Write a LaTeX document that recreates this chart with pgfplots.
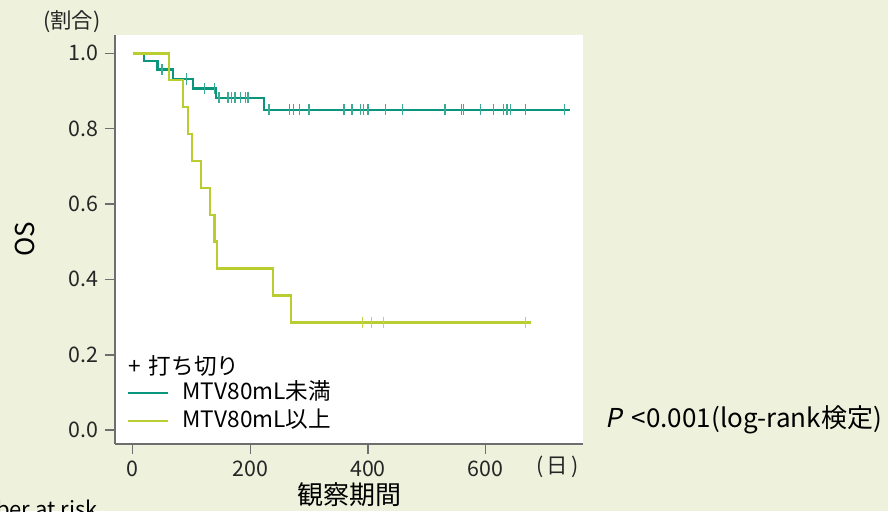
\documentclass[border=0pt]{standalone}
\usepackage{fontspec}
\setmainfont{Noto Sans CJK JP}[AutoFakeSlant=0.2]
\usepackage{pgfplots}
\pgfplotsset{compat=1.18}
\definecolor{bg}{RGB}{238,242,220}
\definecolor{kmteal}{RGB}{10,150,124}
\definecolor{kmlime}{RGB}{186,205,48}
\definecolor{axgray}{RGB}{110,110,110}
\begin{document}
\begin{tikzpicture}
\path[use as bounding box, fill=bg] (-57.5pt,-33.5pt) rectangle (386.5pt,222pt);
\begin{axis}[
  at={(0pt,0pt)}, anchor=south west,
  scale only axis, width=234pt, height=204.5pt,
  xmin=-30, xmax=765.5, ymin=-0.037, ymax=1.0486,
  clip=false,
  axis lines*=left,
  axis line style={axgray, line width=1pt},
  axis background/.style={fill=white},
  tick align=outside,
  major tick length=5pt,
  tick style={axgray, line width=0.8pt},
  xtick={0,200,400,600},
  ytick={0,0.2,0.4,0.6,0.8,1},
  /pgf/number format/assume math mode=true,
  yticklabel style={/pgf/number format/.cd, fixed, fixed zerofill, precision=1},
  ticklabel style={font=\fontsize{10.7}{12}\selectfont, text=black!85},
  xlabel={観察期間},
  xlabel style={at={(axis description cs:0.501,-0.125)}, anchor=center, font=\fontsize{13}{15}\selectfont},
  ylabel={OS},
  ylabel style={at={(axis description cs:-0.192,0.5)}, anchor=center, font=\fontsize{13}{15}\selectfont},
  legend style={at={(axis description cs:0.0256,0.0905)}, anchor=west, draw=none, fill=none,
    font=\fontsize{11.3}{13}\selectfont, inner sep=0pt, row sep=2pt,
    nodes={inner xsep=3.5pt, inner ysep=0.5pt, text height=9pt, text depth=2pt}},
  legend image code/.code={\draw[#1, line width=1pt] (0pt,0pt) -- (20pt,0pt); \path (23pt,0pt);},
  legend cell align=left,
]
% MTV < 80 mL
\addplot[const plot, color=kmteal, line width=1.2pt] coordinates {
  (0,1) (19,0.980) (42.5,0.957) (69,0.932) (103,0.907) (142,0.882) (223,0.850) (743,0.850)
};
\addlegendentry{MTV80mL未満}
% MTV >= 80 mL
\addplot[const plot, color=kmlime, line width=1.2pt] coordinates {
  (0,1) (62,0.929) (86,0.857) (94.5,0.786) (101,0.714) (116,0.643) (131,0.571) (139,0.500) (143,0.429) (239,0.357) (269.5,0.286) (677,0.286)
};
\addlegendentry{MTV80mL以上}
% censor marks
\addplot[only marks, mark=|, mark size=2.8pt, color=kmteal!80, mark options={line width=0.7pt}, forget plot] coordinates {
  (50,0.957) (92,0.932) (122,0.907) (139,0.907)
  (147,0.882) (162,0.882) (168,0.882) (174,0.882) (183,0.882) (192,0.882) (196,0.882)
  (232,0.850) (267,0.850) (273,0.850) (284,0.850) (300,0.850) (359,0.850) (372,0.850) (373,0.850)
  (387,0.850) (392,0.850) (400,0.850) (430,0.850) (459,0.850) (531,0.850) (559,0.850) (562,0.850)
  (591,0.850) (613,0.850) (630,0.850) (636,0.850) (642,0.850) (668,0.850) (734,0.850)
};
\addplot[only marks, mark=|, mark size=2.8pt, color=kmlime!85, mark options={line width=0.7pt}, forget plot] coordinates {
  (391,0.286) (406,0.286) (426,0.286) (668,0.286)
};
\node[anchor=west, inner sep=0pt, font=\fontsize{11.3}{13}\selectfont] at (axis description cs:0.0278,0.1907) {+\hspace{4pt}打ち切り};
\node[anchor=center, inner sep=0pt, font=\fontsize{10.7}{12}\selectfont, text=black!85] at (axis description cs:0.9455,-0.0562) {(\,日\,)};
\node[anchor=center, inner sep=0pt, font=\fontsize{10.7}{12}\selectfont, text=black!85] at (axis description cs:-0.092,1.032) {(割合)};
\node[anchor=west, inner sep=0pt, font=\fontsize{13}{15}\selectfont] at (axis description cs:1.047,0.0587) {\textit{P}\hspace{5pt}<0.001(log-rank検定)};
\node[anchor=north east, inner sep=0pt, font=\fontsize{11}{13}\selectfont] at (axis description cs:-0.0363,-0.137) {Number at risk};
\end{axis}
\end{tikzpicture}
\end{document}
